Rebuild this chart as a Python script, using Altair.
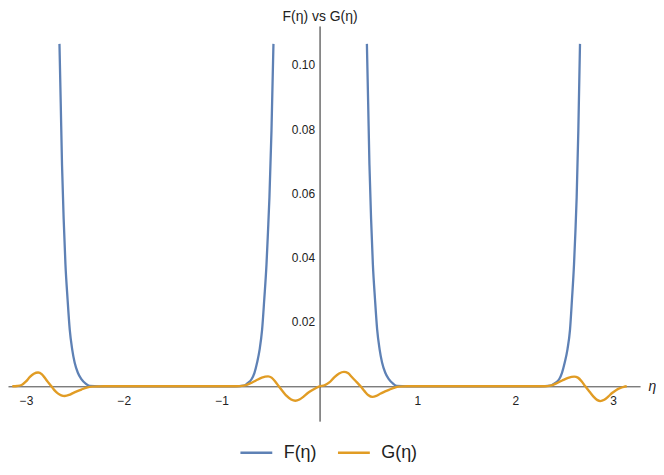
import altair as alt
import pandas as pd

# ---- data ----
# F(eta): two visible pieces (it leaves the plot range between them)
f1_eta = [-2.658, -2.645, -2.632, -2.615, -2.597, -2.575, -2.553, -2.528, -2.503, -2.470,
          -2.434, -2.390, -2.350, -2.250, -1.900, -1.550, -1.200, -0.870,
          -0.773, -0.735, -0.695, -0.665, -0.638, -0.612, -0.587, -0.565, -0.542,
          -0.527, -0.512, -0.491, -0.471]
f1_val = [0.1065, 0.088, 0.069, 0.052, 0.038, 0.027, 0.0176, 0.0115, 0.0074, 0.0042,
          0.0022, 0.0008, 0.0001, 0.0, 0.0, 0.0, 0.0, 0.0,
          0.0002, 0.0010, 0.0022, 0.0042, 0.0074, 0.0115, 0.0176, 0.027, 0.038,
          0.048, 0.0588, 0.0796, 0.1065]
f2_eta = [0.484, 0.497, 0.510, 0.527, 0.545, 0.567, 0.589, 0.614, 0.639, 0.672,
          0.708, 0.752, 0.790, 0.900, 1.250, 1.600, 1.950, 2.250,
          2.360, 2.405, 2.449, 2.478, 2.506, 2.534, 2.560, 2.580, 2.601,
          2.615, 2.628, 2.645, 2.662]
f2_val = [0.1065, 0.088, 0.069, 0.052, 0.038, 0.027, 0.0176, 0.0115, 0.0074, 0.0042,
          0.0022, 0.0008, 0.0001, 0.0, 0.0, 0.0, 0.0, 0.0,
          0.0002, 0.0010, 0.0022, 0.0042, 0.0074, 0.0115, 0.0176, 0.027, 0.038,
          0.048, 0.0588, 0.0796, 0.1065]

# G(eta): small oscillations
g_eta = [-3.14, -3.09, -3.045, -3.0, -2.96, -2.92, -2.876, -2.84, -2.81, -2.775, -2.74,
         -2.71, -2.675, -2.64, -2.604, -2.56, -2.52, -2.475, -2.434, -2.38, -2.32,
         -2.2, -1.8, -1.4, -1.0, -0.85,
         -0.773, -0.71, -0.65, -0.59, -0.526, -0.49, -0.455, -0.417, -0.375, -0.336,
         -0.29, -0.247, -0.205, -0.163, -0.12, -0.081, -0.04, 0.0,
         0.05, 0.1, 0.15, 0.2, 0.25, 0.29, 0.33, 0.38, 0.42, 0.46, 0.5, 0.54, 0.58,
         0.62, 0.67, 0.71, 0.76, 0.81, 0.9, 1.3, 1.7, 2.1, 2.3,
         2.36, 2.42, 2.48, 2.54, 2.604, 2.64, 2.68, 2.716, 2.76, 2.8, 2.84, 2.869,
         2.91, 2.95, 2.99, 3.03, 3.07, 3.11, 3.14]
g_val = [0.0, 0.0001, 0.0004, 0.0015, 0.0029, 0.0039, 0.0043, 0.0038, 0.0027, 0.0013, 0.0,
         -0.0012, -0.0022, -0.0028, -0.0030, -0.0027, -0.0021, -0.0015, -0.0010, -0.0004, -0.0001,
         0.0, 0.0, 0.0, 0.0, 0.0,
         0.0002, 0.0009, 0.0018, 0.0027, 0.0031, 0.0027, 0.0016, 0.0, -0.0016, -0.0030,
         -0.0041, -0.0045, -0.0041, -0.0032, -0.0021, -0.0013, -0.0006, 0.0,
         0.0003, 0.0012, 0.0028, 0.0040, 0.0045, 0.0041, 0.0029, 0.0013, 0.0, -0.0015, -0.0028, -0.0033, -0.0030,
         -0.0023, -0.0016, -0.0011, -0.0005, -0.0001, 0.0, 0.0, 0.0, 0.0, 0.0,
         0.0002, 0.0009, 0.0018, 0.0026, 0.0030, 0.0027, 0.0015, 0.0, -0.0017, -0.0032, -0.0043, -0.0046,
         -0.0042, -0.0032, -0.0021, -0.0012, -0.0006, -0.0002, 0.0]

series_names = ["F(η)", "G(η)"]
series_colors = ["#5E81B5", "#E19C24"]
x_ticks = [-3, -2, -1, 1, 2, 3]
y_ticks = [0.02, 0.04, 0.06, 0.08, 0.10]

rows = []
for e, v in zip(f1_eta, f1_val):
    rows.append({"eta": e, "val": v, "series": series_names[0], "seg": "F1"})
for e, v in zip(f2_eta, f2_val):
    rows.append({"eta": e, "val": v, "series": series_names[0], "seg": "F2"})
df_f = pd.DataFrame(rows)
df_g = pd.DataFrame({"eta": g_eta, "val": g_val, "series": series_names[1], "seg": "G"})

W, H = 635, 397
xdom = [-3.184, 3.276]
ydom = [-0.01084, 0.11207]
x_axis_offset = -round(H * (0 - ydom[0]) / (ydom[1] - ydom[0]))
y_axis_offset = -round(W * (0 - xdom[0]) / (xdom[1] - xdom[0]))

FONT = "Liberation Sans"

x_enc = alt.X("eta:Q",
              scale=alt.Scale(domain=xdom, nice=False, zero=False),
              axis=alt.Axis(values=x_ticks, format="d", offset=x_axis_offset,
                            grid=False, ticks=False, labelPadding=9,
                            domainColor="#444", domainWidth=1,
                            labelFont=FONT, labelFontSize=12, labelColor="#222",
                            title="η", titleFont=FONT, titleFontStyle="italic",
                            titleFontWeight="normal", titleFontSize=14, titleColor="#222",
                            titleX=W + 8, titleY=0, titleAlign="left",
                            titleBaseline="middle", titleAngle=0))
y_enc = alt.Y("val:Q",
              scale=alt.Scale(domain=ydom, nice=False, zero=False),
              axis=alt.Axis(values=y_ticks, format=".2f", offset=y_axis_offset,
                            grid=False, ticks=False, labelPadding=5,
                            domainColor="#222", domainWidth=1,
                            labelFont=FONT, labelFontSize=12, labelColor="#222",
                            title="F(η) vs G(η)", titleFont=FONT, titleFontStyle="normal",
                            titleFontWeight="normal", titleFontSize=14, titleColor="#222",
                            titleAngle=0, titleX=0, titleY=-9, titleAlign="center",
                            titleBaseline="middle"))
color_enc = alt.Color("series:N",
                      scale=alt.Scale(domain=series_names, range=series_colors),
                      legend=alt.Legend(orient="none", legendX=232, legendY=411,
                                        direction="horizontal", title=None,
                                        symbolType="stroke", symbolSize=1024,
                                        symbolStrokeWidth=2.5, labelFont=FONT,
                                        labelFontSize=18, labelColor="#222",
                                        labelOffset=10, columnPadding=16, padding=0))

f_layer = alt.Chart(df_f).mark_line(strokeWidth=2.3, interpolate="monotone").encode(
    x=x_enc, y=y_enc, color=color_enc, detail="seg:N")
g_layer = alt.Chart(df_g).mark_line(strokeWidth=2.4, interpolate="monotone").encode(
    x=x_enc, y=y_enc, color=color_enc, detail="seg:N")

chart = alt.layer(f_layer, g_layer).properties(
    width=W, height=H,
    padding={"left": 0, "top": 17, "right": 16, "bottom": 44},
    autosize=alt.AutoSizeParams(type="none"),
    background="white",
).configure_view(stroke=None)

chart.save("out.html", embed_options={"renderer": "svg", "actions": False})
